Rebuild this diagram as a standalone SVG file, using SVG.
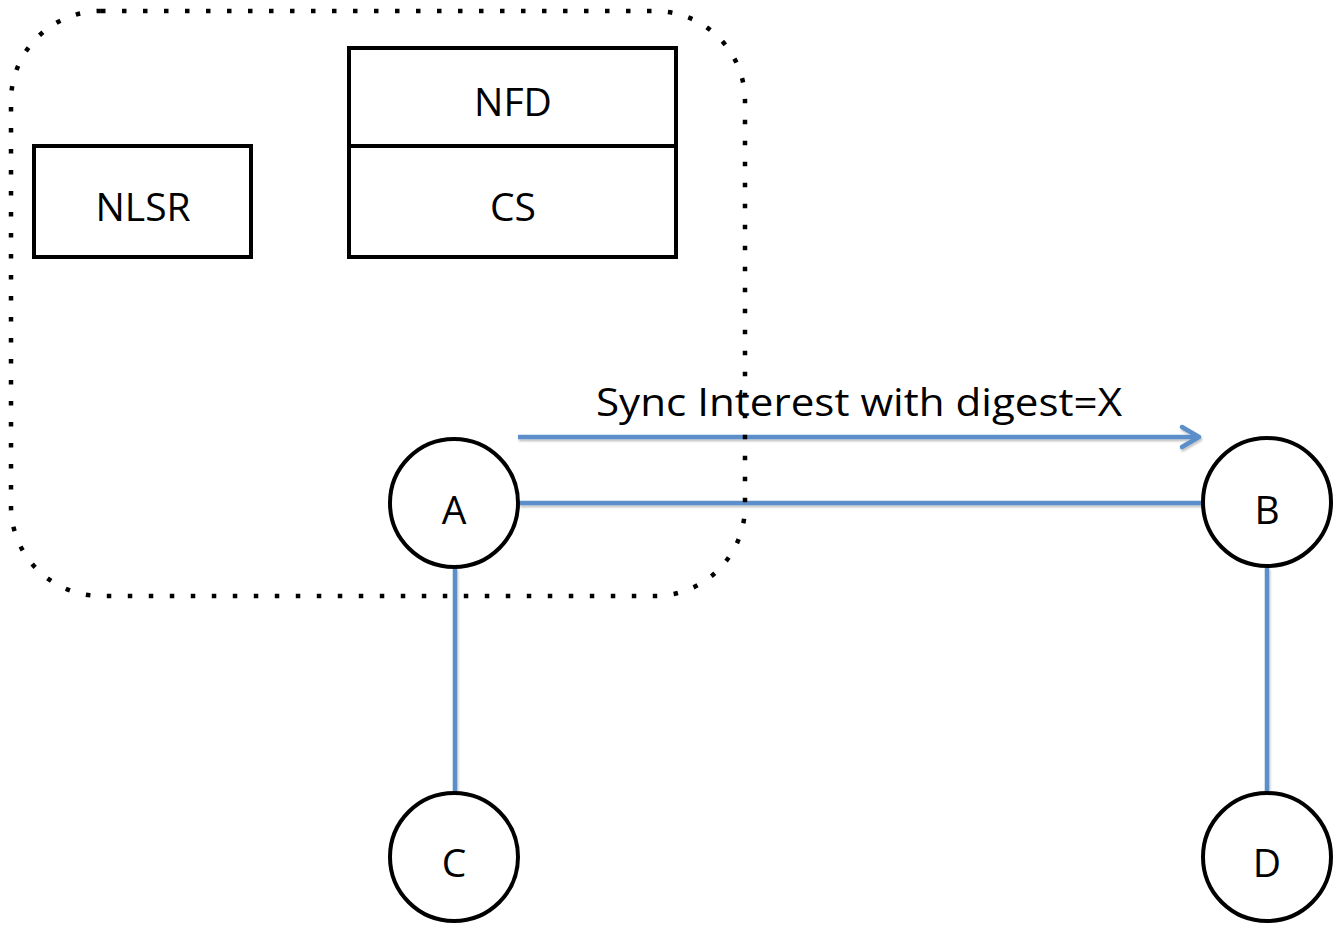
<svg xmlns="http://www.w3.org/2000/svg" width="1336" height="930" viewBox="0 0 1336 930">
<style>
.box{fill:#fff;stroke:#000;stroke-width:4}
.node{fill:#fff;stroke:#000;stroke-width:4}
.lbl{font-family:"Open Sans","Liberation Sans",sans-serif;font-size:39px;fill:#000;text-anchor:middle;dominant-baseline:central}
.link{stroke:#5b8fc9;stroke-width:4.5;fill:none}
.dot{fill:none;stroke:#000;stroke-width:4.5;stroke-dasharray:4.5 16.5}
</style>
<defs>
<filter id="sh" x="-5%" y="-50%" width="110%" height="200%"><feDropShadow dx="1" dy="2" stdDeviation="1.2" flood-color="#000" flood-opacity="0.25"/></filter>
</defs>
<rect width="1336" height="930" fill="#fff"/>
<g id="NLSR"><rect class="box" x="34" y="146" width="217" height="111"/><text class="lbl" x="143" y="205">NLSR</text></g>
<g id="NFD"><rect class="box" x="349" y="48" width="327" height="98"/><text class="lbl" x="513" y="100">NFD</text></g>
<g id="CS"><rect class="box" x="349" y="146" width="327" height="111"/><text class="lbl" x="513" y="205">CS</text></g>
<g id="connectors" filter="url(#sh)">
<line class="link" x1="519" y1="503" x2="1202" y2="503"/>
<line class="link" x1="455" y1="568" x2="455" y2="792"/>
<line class="link" x1="1267" y1="568" x2="1267" y2="792"/>
<line class="link" x1="518" y1="437" x2="1198" y2="437"/>
<polyline class="link" points="1182,427 1199,437 1182,447" stroke-linecap="round" stroke-linejoin="round"/>
</g>
<text class="lbl" x="859" y="400" textLength="526" lengthAdjust="spacingAndGlyphs">Sync Interest with digest=X</text>
<g id="A"><circle class="node" cx="454" cy="503" r="64"/><text class="lbl" x="454" y="508">A</text></g>
<g id="B"><circle class="node" cx="1267" cy="502" r="64"/><text class="lbl" x="1267" y="508">B</text></g>
<g id="C"><circle class="node" cx="454" cy="857" r="64"/><text class="lbl" x="454" y="861">C</text></g>
<g id="D"><circle class="node" cx="1267" cy="857" r="64"/><text class="lbl" x="1267" y="861">D</text></g>
<g id="router"><rect class="dot" x="11" y="11" width="734" height="585" rx="90" ry="90"/></g>
</svg>
